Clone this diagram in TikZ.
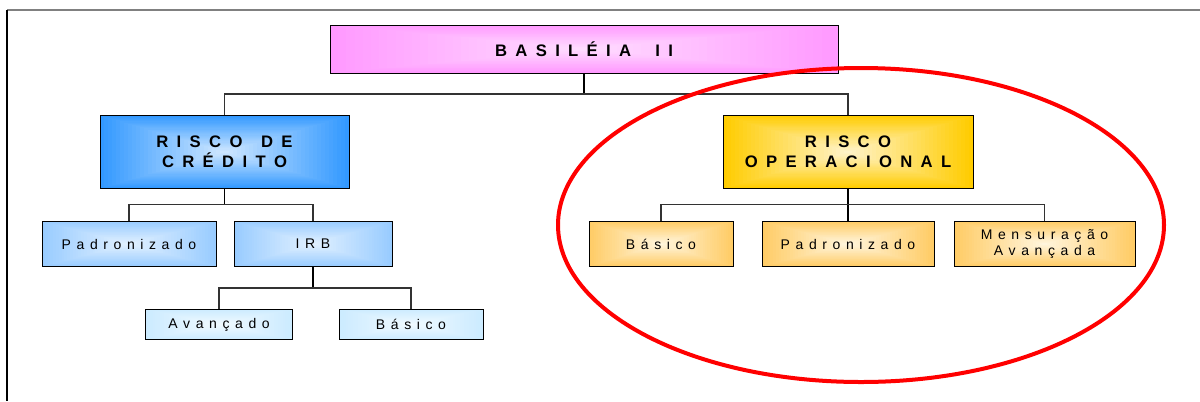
\documentclass[tikz,border=0pt]{standalone}
\usepackage{fontspec}
\setmainfont{Liberation Sans}
\usetikzlibrary{calc}

% tracked (letter-spaced) text: every glyph is followed by \trkgap
\newcommand\trkgap{0.4em}
\newcommand\wordgap{\hspace{0.45em}}
\newcommand\narrowgap{\hspace{0.12em}}
\makeatletter
\newcommand\trk[1]{\@tfor\trk@c:=#1\do{\trk@c\hspace{\trkgap}}\unskip}
\makeatother

% box colours: edge / centre
\definecolor{pinkedge}{RGB}{255,153,255}  \definecolor{pinkmid}{RGB}{255,220,255}
\definecolor{blueedge}{RGB}{51,153,255}   \definecolor{bluemid}{RGB}{205,230,255}
\definecolor{goldedge}{RGB}{255,204,0}    \definecolor{goldmid}{RGB}{255,243,200}
\definecolor{sandedge}{RGB}{255,204,102}  \definecolor{sandmid}{RGB}{255,245,220}
\definecolor{skyedge}{RGB}{153,204,255}   \definecolor{skymid}{RGB}{225,240,255}
\definecolor{iceedge}{RGB}{204,235,255}   \definecolor{icemid}{RGB}{240,250,255}

\newcommand\unitpx{0.75pt}

\tikzset{
  % rectangular fade from the centre outwards, built from nested rectangles
  fade/.style 2 args={fill=#1, path picture={
      \foreach \k in {1,...,30}{
        \pgfmathsetmacro\shrink{1-\k/31}
        \pgfmathsetmacro\mix{100*\k/30}
        \fill[#2!\mix!#1]
          ($(path picture bounding box.center)!\shrink!(path picture bounding box.north east)$)
          rectangle
          ($(path picture bounding box.center)!\shrink!(path picture bounding box.south west)$);
      }}},
  box/.style={draw=black, line width=0.75pt, inner sep=0pt, align=center},
  headbox/.style={box, font=\fontsize{12.5}{15}\selectfont\bfseries\def\trkgap{0.5em}},
  leafbox/.style={box, font=\fontsize{10.5}{12.5}\selectfont\def\trkgap{0.4em}},
  dims/.style 2 args={minimum width=#1*\unitpx, minimum height=#2*\unitpx},
  link/.style={draw=black!80, line width=0.8pt},
  drop/.style={draw=black, line width=1pt},
}

\begin{document}
\begin{tikzpicture}[x=\unitpx, y=-\unitpx]
  \useasboundingbox (0,0) rectangle (1200,401);

  % page frame
  \draw[gray, line width=1.5pt] (7,10) -- (1200,10);
  \draw[black, line width=1.1pt] (7,10) -- (7,401);

  % tree
  \node[headbox, fade={pinkedge}{pinkmid}, dims={508}{48}] (root) at (584,49) {\trk{BASILÉIA\wordgap II}};
  \node[headbox, fade={blueedge}{bluemid}, dims={249}{73}] (cred) at (224.5,152) {\trk{RISCO\narrowgap DE}\\\trk{CRÉDITO}};
  \node[headbox, fade={goldedge}{goldmid}, dims={250}{73}] (oper) at (848,152) {\trk{RISCO}\\\trk{OPERACIONAL}};

  \node[leafbox, fade={skyedge}{skymid}, dims={174}{45}] (cpad) at (129,244) {\trk{Padronizado}};
  \node[leafbox, fade={skyedge}{skymid}, dims={158}{45}] (irb) at (313,244) {\trk{IRB}};
  \node[leafbox, fade={iceedge}{icemid}, dims={147}{30}] (avan) at (219,324.5) {\trk{Avançado}};
  \node[leafbox, fade={iceedge}{icemid}, dims={144}{30}] (cbas) at (411,324.5) {\trk{Básico}};

  \node[leafbox, fade={sandedge}{sandmid}, dims={144}{45}] (obas) at (661,244) {\trk{Básico}};
  \node[leafbox, fade={sandedge}{sandmid}, dims={172}{45}] (opad) at (848,244) {\trk{Padronizado}};
  \node[leafbox, fade={sandedge}{sandmid}, dims={181}{45}] (omen) at (1044.5,244) {\trk{Mensuração}\\\trk{Avançada}};

  % connectors
  \coordinate (rootbar) at (584,94);
  \coordinate (credbar) at (224.5,204.5);
  \coordinate (operbar) at (848,204.5);
  \coordinate (irbbar) at (313,288);

  \draw[drop] (root.south) -- (rootbar);
  \draw[link] (cred.north) |- (rootbar) -| (oper.north);

  \draw[drop] (cred.south) -- (credbar);
  \draw[link] (cpad.north) |- (credbar) -| (irb.north);

  \draw[drop] (irb.south) -- (irbbar);
  \draw[link] (avan.north) |- (irbbar) -| (cbas.north);

  \draw[drop] (oper.south) -- (opad.north);
  \draw[link] (obas.north) |- (operbar) -| (omen.north);

  % highlight ring
  \draw[red, line width=3pt] (861,225) ellipse [x radius=303, y radius=157];
\end{tikzpicture}
\end{document}
